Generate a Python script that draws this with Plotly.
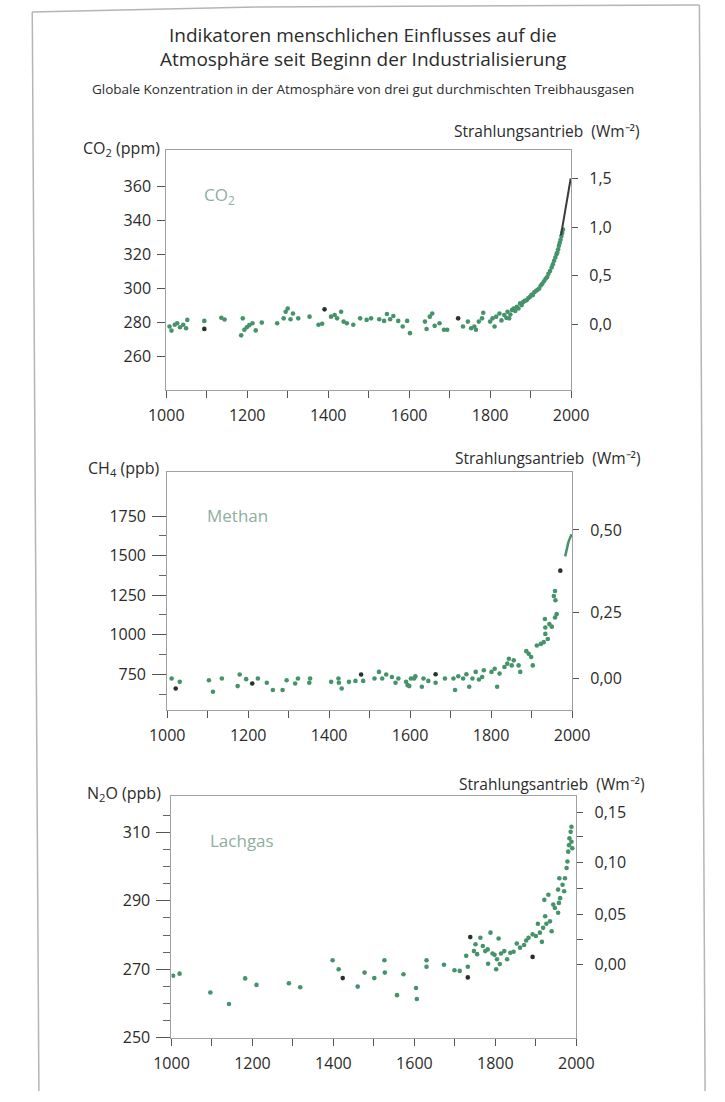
import plotly.graph_objects as go

W, H = 725, 1102
def px(x): return x / W
def py(y): return 1 - y / H

FONT = "Open Sans"
TXT = "#2b2b2b"
GREEN = "#45936a"
DARK = "#26332b"
LABEL = "#8fae9e"
BOX = "#a0a0a0"

# ---------------- data ----------------
co2_year = [1008, 1013, 1021, 1027, 1034, 1042, 1049, 1052,
            1094, 1136, 1144, 1185, 1189, 1193, 1199, 1205, 1213, 1221, 1236,
            1274, 1290, 1295, 1300, 1307, 1313, 1326, 1354, 1376, 1385,
            1407, 1416, 1422, 1432, 1438, 1446, 1462, 1479, 1495,
            1506, 1526, 1538, 1545, 1553, 1561, 1573, 1584, 1595, 1602,
            1639, 1643, 1651, 1657, 1663, 1675, 1686, 1694,
            1733, 1745, 1753, 1761, 1765, 1772, 1780, 1783,
            1800, 1806, 1811, 1815, 1823, 1828, 1835, 1840, 1843, 1847,
            1850, 1854, 1858, 1862, 1866, 1870, 1874, 1878, 1882, 1886,
            1890, 1894, 1898, 1902, 1905, 1909, 1913, 1917, 1921, 1925,
            1929, 1933, 1937, 1941, 1944, 1948, 1952, 1955, 1958, 1961,
            1964, 1966, 1968, 1970, 1972, 1974, 1976, 1978, 1980]
co2_ppm = [277.4, 275.0, 278.4, 279.3, 277.0, 278.4, 276.4, 281.3,
           280.7, 282.6, 281.5, 272.2, 282.2, 275.5, 277.0, 278.2, 279.3, 275.1, 279.7,
           279.3, 282.2, 286.1, 288.0, 281.7, 285.1, 282.2, 283.2, 278.4, 279.0,
           283.2, 284.2, 282.2, 286.1, 280.3, 279.3, 278.4, 282.2, 281.3,
           282.2, 281.7, 280.7, 284.8, 281.7, 283.6, 280.7, 277.4, 280.7, 273.5,
           280.3, 275.9, 283.2, 285.1, 277.8, 279.3, 275.5, 275.5,
           277.4, 280.3, 276.4, 277.4, 275.5, 280.3, 282.2, 285.5,
           280.3, 282.2, 277.4, 283.2, 285.1, 281.0, 284.2, 282.5, 286.1, 282.2,
           284.5, 287.1, 288.0, 286.5, 289.0, 288.0, 291.0, 290.0, 291.9, 292.5,
           292.9, 294.0, 294.8, 296.0, 295.8, 297.5, 298.3, 299.0, 299.7, 301.5,
           302.6, 304.0, 305.5, 306.5, 308.4, 310.0, 312.2, 314.0, 316.1, 318.0,
           320.0, 321.0, 322.9, 325.0, 326.7, 328.5, 330.6, 332.5, 334.5]
co2_dark_year = [1094, 1391, 1721]
co2_dark_ppm = [276.0, 287.5, 282.2]
co2_line_year = [1975, 1999]
co2_line_ppm = [331.0, 364.5]
co2_forcing_labels = ["1,5", "1,0", "0,5", "0,0"]
co2_forcing_at_ppm = [364.5, 335.8, 307.3, 278.4]

ch4_year = [1011, 1031, 1103, 1113, 1135, 1174, 1179, 1195, 1224, 1246,
            1261, 1285, 1295, 1316, 1323, 1351, 1353, 1405, 1423, 1424,
            1431, 1449, 1465, 1484, 1512, 1523, 1531, 1541, 1555, 1564,
            1571, 1590, 1594, 1598, 1602, 1610, 1613, 1629, 1633, 1645,
            1663, 1686, 1707, 1711, 1719, 1731, 1739, 1746, 1754, 1762,
            1770, 1778, 1782, 1801, 1809, 1815, 1821, 1833, 1840, 1844,
            1851, 1856, 1868, 1872, 1887, 1893, 1899, 1903, 1913, 1923,
            1930, 1933, 1934, 1934, 1940, 1944, 1950, 1955, 1958, 1958,
            1959, 1962]
ch4_ppb = [723, 702, 712, 639, 723, 675, 748, 719, 723, 696,
           650, 650, 712, 692, 723, 696, 723, 702, 723, 696,
           660, 702, 708, 708, 723, 765, 723, 748, 733, 696,
           723, 702, 681, 675, 723, 723, 737, 671, 723, 708,
           696, 723, 723, 650, 737, 723, 750, 671, 723, 765,
           717, 733, 775, 765, 785, 671, 754, 796, 817, 848,
           806, 838, 806, 765, 896, 879, 859, 806, 932, 942,
           953, 1099, 1005, 1046, 973, 1067, 1051, 1245, 1109, 1276,
           1218, 1130]
ch4_dark_year = [1021, 1210, 1479, 1663, 1971]
ch4_dark_ppb = [660, 692, 748, 750, 1405]
ch4_line_year = [1983, 1987, 1991, 1995, 1999]
ch4_line_ppb = [1495, 1545, 1585, 1612, 1635]
ch4_forcing_labels = ["0,50", "0,25", "0,00"]
ch4_forcing_at_ppb = [1662, 1141, 723]

n2o_year = [1004, 1020, 1096, 1142, 1182, 1210, 1290, 1318, 1398, 1413,
            1460, 1477, 1501, 1526, 1527, 1557, 1573, 1604, 1606, 1630,
            1630, 1673, 1699, 1712, 1728, 1732, 1747, 1751, 1755, 1763,
            1769, 1775, 1781, 1782, 1788, 1793, 1798, 1802, 1804, 1808,
            1811, 1814, 1822, 1829, 1837, 1845, 1853, 1861, 1871, 1876,
            1882, 1892, 1900, 1905, 1910, 1915, 1918, 1921, 1923, 1926,
            1931, 1935, 1939, 1943, 1947, 1955, 1955, 1957, 1958, 1960,
            1966, 1970, 1972, 1976, 1978, 1980, 1982, 1983, 1986, 1988,
            1988, 1990]
n2o_ppb = [268.1, 268.7, 263.2, 259.8, 267.3, 265.4, 265.9, 264.7, 272.6, 270.0,
           264.9, 269.0, 267.4, 272.6, 269.0, 262.4, 268.5, 264.5, 261.3, 272.6,
           270.7, 271.3, 269.7, 269.5, 273.9, 270.7, 275.3, 277.3, 274.4, 279.2,
           276.8, 275.3, 275.8, 271.6, 280.7, 274.6, 274.2, 270.0, 272.9, 279.0,
           271.5, 274.6, 275.3, 272.9, 274.8, 275.1, 277.5, 276.3, 277.1, 278.4,
           279.2, 280.2, 279.7, 283.3, 280.7, 278.0, 282.1, 290.3, 285.5, 283.3,
           291.8, 284.0, 281.1, 288.9, 287.9, 286.5, 293.3, 289.4, 296.6, 290.8,
           294.7, 292.8, 296.6, 299.6, 301.5, 304.4, 306.3, 308.3, 310.2, 311.7,
           307.3, 305.4]
n2o_dark_year = [1423, 1732, 1738, 1892]
n2o_dark_ppb = [267.4, 267.6, 279.4, 273.6]
n2o_forcing_labels = ["0,15", "0,10", "0,05", "0,00"]
n2o_forcing_at_ppb = [316.0, 301.2, 286.0, 271.5]
n2o_forcing_minor_at_ppb = [308.7, 293.7, 278.7]

year_ticks = [1000, 1200, 1400, 1600, 1800, 2000]
year_labels = ["1000", "1200", "1400", "1600", "1800", "2000"]

panel_names = ["CO<sub>2</sub>", "Methan", "Lachgas"]
left_titles = ["CO<sub>2</sub> (ppm)", "CH<sub>4</sub> (ppb)", "N<sub>2</sub>O (ppb)"]
right_title = "Strahlungsantrieb  (Wm⁻²)"

# ---------------- layout geometry (pixels) ----------------
panels = [
    dict(x0=156, x1=582, top=152, bot=394, yr=[240, 381]),
    dict(x0=157, x1=583, top=477, bot=717, yr=[525, 2027]),
    dict(x0=161.5, x1=587.5, top=804, bot=1048, yr=[250, 320.7]),
]

fig = go.Figure()
tickfont = dict(family=FONT, size=16, color=TXT)

def add_points(i, xs, ys, color, size=4.6):
    fig.add_trace(go.Scatter(x=xs, y=ys, mode="markers", xaxis=f"x{i}" if i > 1 else "x",
                             yaxis=f"y{i}" if i > 1 else "y",
                             marker=dict(color=color, size=size, line=dict(width=0)),
                             showlegend=False, hoverinfo="x+y"))

add_points(1, co2_year, co2_ppm, GREEN)
add_points(1, co2_dark_year, co2_dark_ppm, DARK)
fig.add_trace(go.Scatter(x=co2_line_year, y=co2_line_ppm, mode="lines",
                         line=dict(color="#3a3a3a", width=2), showlegend=False))
add_points(2, ch4_year, ch4_ppb, GREEN)
add_points(2, ch4_dark_year, ch4_dark_ppb, DARK)
fig.add_trace(go.Scatter(x=ch4_line_year, y=ch4_line_ppb, mode="lines", xaxis="x2", yaxis="y2",
                         line=dict(color=GREEN, width=2.5), showlegend=False))
add_points(3, n2o_year, n2o_ppb, GREEN)
add_points(3, n2o_dark_year, n2o_dark_ppb, DARK)

layout = dict(width=W, height=H, margin=dict(l=0, r=0, t=0, b=0),
              paper_bgcolor="white", plot_bgcolor="white", showlegend=False)

left_cfg = [
    dict(tickmode="array", tickvals=[260, 280, 300, 320, 340, 360], ticklen=8, minor=None),
    dict(tickmode="array", tickvals=[750, 1000, 1250, 1500, 1750], ticklen=14,
         minor=dict(tickmode="array", tickvals=[625, 875, 1125, 1375, 1625], ticks="outside",
                    ticklen=7, tickcolor="#666", tickwidth=1)),
    dict(tickmode="array", tickvals=[250, 270, 290, 310], ticklen=14,
         minor=dict(tickmode="array", tickvals=[255, 260, 265, 275, 280, 285, 295, 300, 305, 315],
                    ticks="outside", ticklen=7, tickcolor="#666", tickwidth=1)),
]
right_cfg = [
    dict(vals=co2_forcing_at_ppm, text=co2_forcing_labels, minor=None),
    dict(vals=ch4_forcing_at_ppb, text=ch4_forcing_labels, minor=None),
    dict(vals=n2o_forcing_at_ppb, text=n2o_forcing_labels, minor=n2o_forcing_minor_at_ppb),
]

for i, p in enumerate(panels, start=1):
    xd = [px(p["x0"]), px(p["x1"])]
    yd = [py(p["bot"]), py(p["top"])]
    xname = "xaxis" if i == 1 else f"xaxis{i}"
    yname = "yaxis" if i == 1 else f"yaxis{i}"
    yref = "y" if i == 1 else f"y{i}"
    xref = "x" if i == 1 else f"x{i}"
    layout[xname] = dict(domain=xd, anchor=yref, range=[1000, 2000], tickmode="array",
                         tickvals=year_ticks, ticktext=year_labels, ticks="outside", ticklen=7,
                         tickcolor="#555", tickwidth=1, showline=True, linecolor=BOX, linewidth=1,
                         mirror=True, showgrid=False, zeroline=False, tickfont=tickfont,
                         ticklabelstandoff=4,
                         minor=dict(dtick=100, tick0=1000, ticks="outside", ticklen=7,
                                    tickcolor="#555", tickwidth=1, showgrid=False),
                         fixedrange=True)
    lc = left_cfg[i - 1]
    yax = dict(domain=yd, anchor=xref, range=p["yr"], tickmode="array", tickvals=lc["tickvals"],
               ticks="outside", ticklen=lc["ticklen"], tickcolor="#555", tickwidth=1,
               showline=True, linecolor=BOX, linewidth=1, mirror=True, showgrid=False,
               zeroline=False, tickfont=tickfont, ticklabelstandoff=3, fixedrange=True)
    if lc["minor"]:
        yax["minor"] = lc["minor"]
    layout[yname] = yax
    # right-hand forcing axis
    rc = right_cfg[i - 1]
    ridx = i + 3
    rax = dict(domain=yd, anchor=xref, overlaying=yref, side="right", range=p["yr"],
               tickmode="array", tickvals=rc["vals"], ticktext=rc["text"], ticks="outside",
               ticklen=6, tickcolor="#555", tickwidth=1, showline=False, showgrid=False,
               zeroline=False, tickfont=tickfont, ticklabelstandoff=8, fixedrange=True)
    if rc["minor"]:
        rax["minor"] = dict(tickmode="array", tickvals=rc["minor"], ticks="outside",
                            ticklen=6, tickcolor="#555", tickwidth=1)
    layout[f"yaxis{ridx}"] = rax
    # dummy trace so the right axis is drawn
    fig.add_trace(go.Scatter(x=[None], y=[None], xaxis=xref, yaxis=f"y{ridx}",
                             showlegend=False, hoverinfo="skip"))

fig.update_layout(**layout)

ann = []
def text(x, y, s, size, color=TXT, xanchor="center"):
    ann.append(dict(x=px(x), y=py(y), xref="paper", yref="paper", text=s, showarrow=False,
                    xanchor=xanchor, yanchor="middle",
                    font=dict(family=FONT, size=size, color=color)))

text(363, 35, "Indikatoren menschlichen Einflusses auf die", 19)
text(363, 60, "Atmosphäre seit Beginn der Industrialisierung", 19)
text(363, 90, "Globale Konzentration in der Atmosphäre von drei gut durchmischten Treibhausgasen", 13.5)

left_title_pos = [(152, 150), (151, 473), (153, 802)]
right_title_pos = [(657, 132), (658, 463), (662, 792)]
name_pos = [(194, 197), (197, 521), (200, 849)]
for k in range(3):
    text(left_title_pos[k][0], left_title_pos[k][1], left_titles[k], 16, xanchor="right")
    text(right_title_pos[k][0], right_title_pos[k][1], right_title, 15.5, xanchor="right")
    text(name_pos[k][0], name_pos[k][1], panel_names[k], 17, color=LABEL, xanchor="left")

fig.update_layout(annotations=ann)

# page frame (scanned page border)
frame = [((15, 12), (250, 7)), ((250, 7), (717, 5)), ((15, 12), (22, 1102)), ((717, 5), (723, 1102))]
for (a, b) in frame:
    fig.add_shape(type="line", xref="paper", yref="paper", x0=px(a[0]), y0=py(a[1]),
                  x1=px(b[0]), y1=py(b[1]), line=dict(color="#b5b5b5", width=1.5))

fig.write_html("out.html")
